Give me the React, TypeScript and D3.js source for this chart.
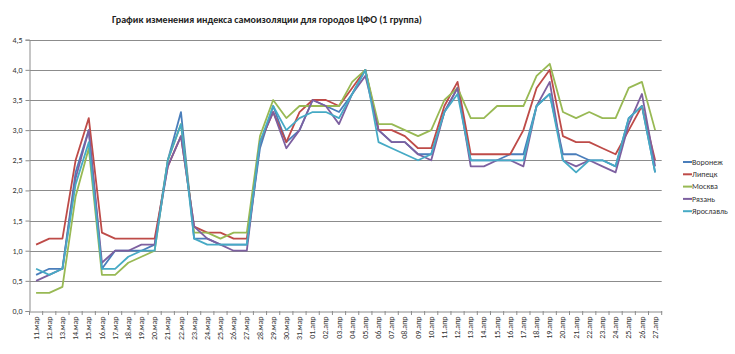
import { useEffect, useRef } from 'react';
import * as d3 from 'd3';

const title = 'График изменения индекса самоизоляции для городов ЦФО (1 группа)';

const marchDays = d3.range(11, 32).map(d => `${d}.мар`);
const aprilDays = d3.range(1, 28).map(d => `${String(d).padStart(2, '0')}.апр`);
const dates = [...marchDays, ...aprilDays];

const yTicks = [0, 0.5, 1, 1.5, 2, 2.5, 3, 3.5, 4, 4.5];

const voronezh = [0.6, 0.7, 0.7, 2.3, 3.0, 0.7, 1.0, 1.0, 1.0, 1.1, 2.5, 3.3, 1.2, 1.2, 1.1, 1.1, 1.1, 2.7, 3.4, 2.8, 3.0,
  3.5, 3.4, 3.3, 3.6, 4.0, 3.0, 2.8, 2.8, 2.6, 2.6, 3.3, 3.7, 2.5, 2.5, 2.5, 2.6, 2.6, 3.4, 3.6, 2.6, 2.6, 2.5, 2.5, 2.4, 3.2, 3.4, 2.3];
const lipetsk = [1.1, 1.2, 1.2, 2.5, 3.2, 1.3, 1.2, 1.2, 1.2, 1.2, 2.4, 2.9, 1.4, 1.3, 1.3, 1.2, 1.2, 2.8, 3.3, 2.8, 3.3,
  3.5, 3.5, 3.4, 3.7, 4.0, 3.0, 3.0, 2.9, 2.7, 2.7, 3.4, 3.8, 2.6, 2.6, 2.6, 2.6, 3.0, 3.7, 4.0, 2.9, 2.8, 2.8, 2.7, 2.6, 3.0, 3.4, 2.5];
const moscow = [0.3, 0.3, 0.4, 1.9, 2.7, 0.6, 0.6, 0.8, 0.9, 1.0, 2.5, 3.1, 1.3, 1.3, 1.2, 1.3, 1.3, 2.9, 3.5, 3.2, 3.4,
  3.4, 3.4, 3.4, 3.8, 4.0, 3.1, 3.1, 3.0, 2.9, 3.0, 3.5, 3.7, 3.2, 3.2, 3.4, 3.4, 3.4, 3.9, 4.1, 3.3, 3.2, 3.3, 3.2, 3.2, 3.7, 3.8, 3.0];
const ryazan = [0.5, 0.6, 0.7, 2.2, 3.0, 0.8, 1.0, 1.0, 1.1, 1.1, 2.4, 2.9, 1.4, 1.2, 1.1, 1.0, 1.0, 2.8, 3.3, 2.7, 3.0,
  3.5, 3.4, 3.1, 3.6, 3.9, 3.0, 2.8, 2.8, 2.6, 2.5, 3.3, 3.7, 2.4, 2.4, 2.5, 2.5, 2.4, 3.4, 3.8, 2.5, 2.4, 2.5, 2.4, 2.3, 3.1, 3.6, 2.4];
const yaroslavl = [0.7, 0.6, 0.7, 2.1, 2.8, 0.7, 0.7, 0.9, 1.0, 1.0, 2.5, 3.1, 1.2, 1.1, 1.1, 1.1, 1.1, 2.8, 3.4, 3.0, 3.2,
  3.3, 3.3, 3.2, 3.6, 4.0, 2.8, 2.7, 2.6, 2.5, 2.6, 3.3, 3.6, 2.5, 2.5, 2.5, 2.5, 2.5, 3.4, 3.6, 2.5, 2.3, 2.5, 2.5, 2.4, 3.2, 3.4, 2.3];

const seriesNames = ['Воронеж', 'Липецк', 'Москва', 'Рязань', 'Ярославль'];
const seriesValues = [voronezh, lipetsk, moscow, ryazan, yaroslavl];
const seriesColors = ['#4a7ebb', '#be4b48', '#98b954', '#7d60a0', '#46aac5'];

const Chart = () => {
  const svgRef = useRef<SVGSVGElement>(null);

  useEffect(() => {
    const width = 735;
    const height = 354;
    const font = 'Calibri, Carlito, "Open Sans", "Noto Sans", sans-serif';

    const svg = d3.select(svgRef.current);
    svg.selectAll('*').remove();
    svg.attr('width', width).attr('height', height);

    const x = d3.scaleBand<string>().domain(dates).range([29.5, 661.7]).padding(0);
    const y = d3.scaleLinear().domain([0, 4.5]).range([311, 39.7]);
    const cx = (d: string) => (x(d) ?? 0) + x.bandwidth() / 2;

    // gridlines
    svg.append('g')
      .selectAll('line')
      .data(yTicks.slice(1))
      .enter()
      .append('line')
      .attr('x1', 29.5)
      .attr('x2', 661.7)
      .attr('y1', d => Math.round(y(d)) + 0.5)
      .attr('y2', d => Math.round(y(d)) + 0.5)
      .attr('stroke', '#8c8c8c')
      .attr('stroke-width', 1);

    // y axis
    const yAxis = svg.append('g')
      .attr('transform', 'translate(29.5,0)')
      .call(d3.axisLeft(y).tickValues(yTicks).tickSize(4).tickPadding(3)
        .tickFormat(d => d3.format('.1f')(d as number).replace('.', ',')));
    yAxis.selectAll('path, line').attr('stroke', '#8c8c8c');
    yAxis.selectAll('text').style('font-family', font).style('font-size', '8px').attr('fill', '#333');

    // x axis
    const xAxis = svg.append('g')
      .attr('transform', 'translate(0,311.5)')
      .call(d3.axisBottom(x).tickSize(0).tickPadding(4));
    xAxis.select('.domain').attr('stroke', '#8c8c8c');
    xAxis.selectAll('text')
      .attr('transform', 'rotate(-90)')
      .attr('x', -5)
      .attr('y', 0)
      .attr('dy', '0.32em')
      .style('text-anchor', 'end')
      .style('font-family', font)
      .style('font-size', '8px')
      .attr('fill', '#333');
    svg.append('g')
      .selectAll('line')
      .data([...dates, 'end'])
      .enter()
      .append('line')
      .attr('x1', (d, i) => 29.5 + i * x.bandwidth())
      .attr('x2', (d, i) => 29.5 + i * x.bandwidth())
      .attr('y1', 311)
      .attr('y2', 315)
      .attr('stroke', '#8c8c8c');

    // lines
    const line = d3.line<number>()
      .x((d, i) => cx(dates[i]))
      .y(d => y(d));

    svg.append('g')
      .selectAll('path')
      .data(seriesValues)
      .enter()
      .append('path')
      .attr('d', d => line(d))
      .attr('fill', 'none')
      .attr('stroke', (d, i) => seriesColors[i])
      .attr('stroke-width', 1.8)
      .attr('stroke-linejoin', 'round');

    // legend
    const legend = svg.append('g')
      .selectAll('g')
      .data(seriesNames)
      .enter()
      .append('g')
      .attr('transform', (d, i) => `translate(683, ${162 + i * 12.3})`);
    legend.append('line')
      .attr('x1', 0)
      .attr('x2', 9)
      .attr('stroke', (d, i) => seriesColors[i])
      .attr('stroke-width', 2);
    legend.append('text')
      .attr('x', 9)
      .attr('dy', '0.35em')
      .style('font-family', font)
      .style('font-size', '8px')
      .attr('fill', '#333')
      .text(d => d);

    // title
    svg.append('text')
      .attr('x', 267)
      .attr('y', 23)
      .attr('text-anchor', 'middle')
      .style('font-family', font)
      .style('font-size', '10px')
      .style('font-weight', 'bold')
      .attr('fill', '#222')
      .text(title);
  }, []);

  return <svg ref={svgRef} style={{ position: 'absolute', left: 0, top: 0, background: '#fff' }}></svg>;
};

export default function App() {
  return <Chart />;
}
